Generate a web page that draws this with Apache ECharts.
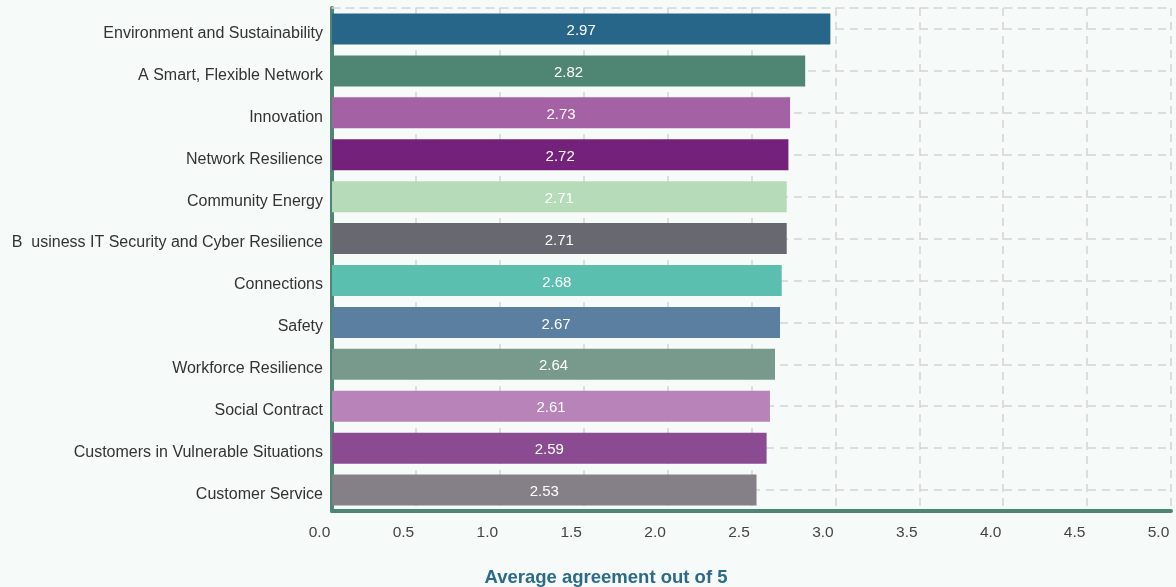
<!DOCTYPE html>
<html>
<head>
<meta charset="utf-8">
<script src="https://cdn.jsdelivr.net/npm/echarts@6/dist/echarts.min.js"></script>
<style>
  html, body { margin: 0; padding: 0; background: #f6faf9; }
  #chart { width: 1176px; height: 587px; }
</style>
</head>
<body>
<div id="chart"></div>
<script>
// Survey themes, listed top to bottom
const categories = [
  'Environment and Sustainability',
  'A Smart, Flexible Network',
  'Innovation',
  'Network Resilience',
  'Community Energy',
  'B  usiness IT Security and Cyber Resilience',
  'Connections',
  'Safety',
  'Workforce Resilience',
  'Social Contract',
  'Customers in Vulnerable Situations',
  'Customer Service'
];
// Average agreement score (out of 5) for each theme
const scores = [2.97, 2.82, 2.73, 2.72, 2.71, 2.71, 2.68, 2.67, 2.64, 2.61, 2.59, 2.53];
// One fill per theme
const barColors = [
  '#286689', '#4e8573', '#a461a3', '#73217a', '#b6dbb9', '#686871',
  '#5abfae', '#5a7fa0', '#779a8d', '#b883b9', '#8b4b91', '#858087'
];
const axisTitle = 'Average agreement out of 5';

const FONT = '"Liberation Sans", Arial, Helvetica, sans-serif';
const chart = echarts.init(document.getElementById('chart'), null, { renderer: 'canvas' });

chart.setOption({
  backgroundColor: '#f6faf9',
  animation: false,
  title: {
    text: axisTitle,
    left: 601,
    top: 563,
    textAlign: 'center',
    textStyle: { fontFamily: FONT, fontSize: 18.5, fontWeight: 'bold', color: '#2c6a8c' }
  },
  grid: { left: 332, right: 5, top: 8, bottom: 76, containLabel: false },
  xAxis: [{
    type: 'value',
    min: 0, max: 5, interval: 0.5,
    position: 'bottom',
    axisLine: { show: true, lineStyle: { color: '#4e8573', width: 4, cap: 'round' } },
    axisTick: { show: false },
    axisLabel: {
      color: '#444', fontFamily: FONT, fontSize: 15.5, margin: 14,
      padding: [0, 25, 0, 0],
      formatter: v => v.toFixed(1)
    },
    splitLine: { show: true, lineStyle: { color: '#d3d3d3', type: [8, 6], width: 1.5 } }
  }, {
    type: 'value',
    min: 0, max: 5, interval: 0.5,
    position: 'top',
    axisLine: { show: true, lineStyle: { color: '#d3d3d3', type: [8, 6], width: 1.5 } },
    axisTick: { show: false },
    axisLabel: { show: false },
    splitLine: { show: false }
  }],
  yAxis: {
    type: 'category',
    data: categories,
    inverse: true,
    axisLine: { show: true, lineStyle: { color: '#4e8573', width: 4, cap: 'round' } },
    axisTick: { show: false, alignWithLabel: true },
    axisLabel: {
      margin: 9,
      formatter: v => '{t|' + v + '}',
      rich: {
        t: { color: '#333', fontFamily: FONT, fontSize: 16, padding: [9, 0, 0, 0] }
      }
    },
    splitLine: { show: true, alignWithLabel: true, lineStyle: { color: '#d3d3d3', type: [8, 6], width: 1.5 } }
  },
  series: [{
    type: 'bar',
    data: scores.map((v, i) => ({ value: v, itemStyle: { color: barColors[i] } })),
    barWidth: 31,
    label: {
      show: true,
      position: 'inside',
      formatter: p => '{v|' + p.value.toFixed(2) + '}',
      rich: {
        v: { color: '#fff', fontFamily: FONT, fontSize: 15, padding: [4, 0, 0, 0] }
      }
    }
  }]
});
</script>
</body>
</html>
